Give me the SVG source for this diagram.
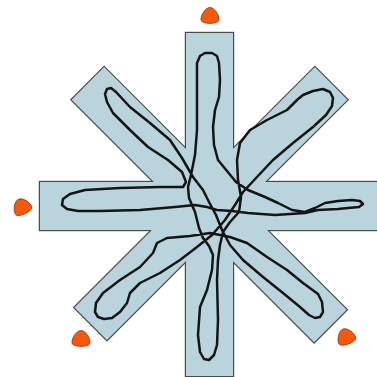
<svg xmlns="http://www.w3.org/2000/svg" width="377" height="377" viewBox="0 0 377 377">
<style>
.edge{fill:none;stroke:#4a4a4a;stroke-width:2.4}
.body{fill:#b9d4dd;stroke:none}
.loop{fill:none;stroke:#141414;stroke-width:2.5;stroke-linejoin:round;stroke-linecap:round}
.drop{fill:#f55a0c;stroke:#8a3a1a;stroke-width:0.8}
</style>
<defs>
<g id="arms">
<rect x="186" y="33" width="47" height="343"/>
<rect x="40" y="182" width="345" height="48"/>
<rect x="-172" y="-23" width="343" height="46" transform="translate(209.5,205) rotate(45)"/>
<rect x="-168" y="-23" width="340" height="46" transform="translate(209.5,205) rotate(-45)"/>
</g>
<path id="droplet" d="M0,-8.5 C4.5,-8.5 9.5,-1 9,4 C8.5,8.5 -8.5,8.5 -9,4 C-9.5,-1 -4.5,-8.5 0,-8.5 Z"/>
</defs>
<rect width="377" height="377" fill="#ffffff"/>
<g id="star">
<use href="#arms" class="edge"/>
<use href="#arms" class="body"/>
</g>
<g id="path-line">
<path class="loop" d="M217,210 L207,207 L195,205 L175,207 L140,210 L100,211 L78,211 L67,209 L62,205 L63,199 L70,194 L85,190 L120,188 L160,187 L183,187 L186,182 L182,172 L168,160 L148,147 L130,130 L113,113 L107,102 L105,94 L107,89 L111,88 L116,92 L130,107 L150,123 L170,140 L182,158 L193,177 L203,190 L209,202 L216,215 L222,230 L230,245 L243,260 L263,277 L283,293 L300,307 L309,315 L315,318 L320,317 L323,312 L322,302 L318,294 L303,283 L287,270 L267,257 L247,243 L230,237 L210,233 L190,236 L167,238 L157,243 L153,253 L140,267 L120,280 L103,293 L96,303 L95,312 L98,317 L104,319 L112,318 L120,312 L127,303 L130,293 L140,283 L160,273 L180,260 L197,247 L212,235 L225,220 L235,205 L243,192 L257,177 L273,160 L293,143 L313,127 L326,115 L332,106 L333,98 L330,92 L323,89 L313,91 L303,95 L297,100 L287,110 L267,120 L250,130 L240,143 L237,160 L238,180 L241,197 L239,212 L230,222 L223,232 L220,245 L218,260 L217,280 L218,320 L217,345 L214,355 L209,360 L204,359 L200,352 L198,335 L200,307 L207,290 L212,270 L213,255 L209,246 L203,238 L199,228 L195,212 L189,198 L188,187 L191,175 L195,155 L197,130 L197,100 L197,75 L197,63 L200,56 L205,53 L212,53 L217,56 L219,63 L220,80 L219,97 L215,110 L213,127 L214,145 L218,160 L227,171 L236,182 L248,190 L265,197 L278,203 L292,210 L305,212 L315,208 L325,203 L338,201 L352,200 L360,201 L363,204 L359,207 L348,208 L338,209 L318,210 L305,213 L275,215 L248,213 L232,211 Z"/>
</g>
<g id="markers">
<use href="#droplet" class="drop" transform="translate(210,16)"/>
<use href="#droplet" class="drop" transform="translate(22,207) rotate(-25)"/>
<use href="#droplet" class="drop" transform="translate(81,339)"/>
<use href="#droplet" class="drop" transform="translate(346,337) rotate(-20)"/>
</g>
</svg>
